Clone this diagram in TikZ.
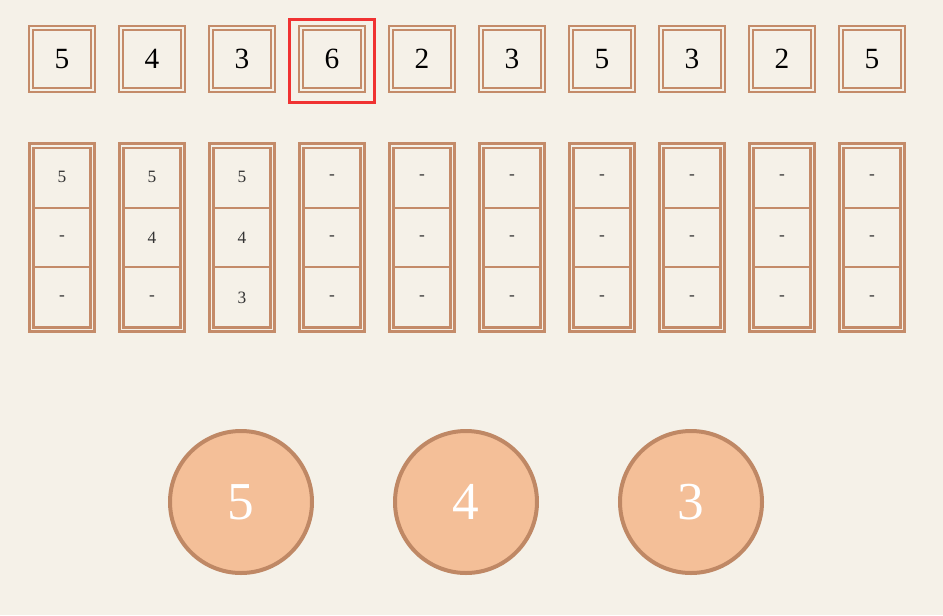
\documentclass[tikz,border=0pt]{standalone}
\usepackage{fontspec}
\setmainfont{Liberation Serif}
\usetikzlibrary{shapes}

\definecolor{bg}{HTML}{F5F1E8}
\definecolor{brd}{HTML}{C48B69}
\definecolor{ring}{HTML}{BF8865}
\definecolor{peach}{HTML}{F4BF98}
\definecolor{mark}{HTML}{F03232}

\begin{document}
\begin{tikzpicture}[x=0.75pt,y=-0.75pt,
	cell/.style={draw=brd,double=bg,line width=1.5pt,double distance=1.1pt,minimum size=46.5pt,inner sep=0pt,font=\fontsize{22}{22}\selectfont},
	stack/.style={draw=brd,double=bg,line width=2.2pt,double distance=1.1pt,minimum width=45.4pt,minimum height=137.6pt,inner sep=0pt},
	sep/.style={draw=brd,line width=1.5pt},
	slot/.style={font=\fontsize{13}{13}\selectfont,text=black!80},
	ball/.style={circle,draw=ring,line width=3pt,fill=peach,minimum size=106.5pt,inner sep=0pt,text=white,font=\fontsize{40}{40}\selectfont},
	selbox/.style={draw=mark,line width=2.2pt,minimum width=63.5pt,minimum height=62.5pt,inner sep=0pt}]
	\fill[bg] (0,0) rectangle (943,615);
	\useasboundingbox (0,0) rectangle (943,615);
	% input row
	\foreach \v [count=\i] in {5,4,3,6,2,3,5,3,2,5}
		\node[cell] (v\i) at (-28+90*\i,59) {\v};
	\node[selbox] (sel) at (332,61) {};
	% stacks
	\foreach \a/\b/\c [count=\i] in {5/-/-,5/4/-,5/4/3,-/-/-,-/-/-,-/-/-,-/-/-,-/-/-,-/-/-,-/-/-}{
		\node[stack] (s\i) at (-28+90*\i,237.5) {};
		\draw[sep] (-55+90*\i,208) -- (-1+90*\i,208);
		\draw[sep] (-55+90*\i,267) -- (-1+90*\i,267);
		\node[slot] (s\i-1) at (-28+90*\i,177) {\a};
		\node[slot] (s\i-2) at (-28+90*\i,238) {\b};
		\node[slot] (s\i-3) at (-28+90*\i,298) {\c};
	}
	% balls
	\node[ball] (b1) at (241,502) {5};
	\node[ball] (b2) at (466,502) {4};
	\node[ball] (b3) at (691,502) {3};
\end{tikzpicture}
\end{document}
